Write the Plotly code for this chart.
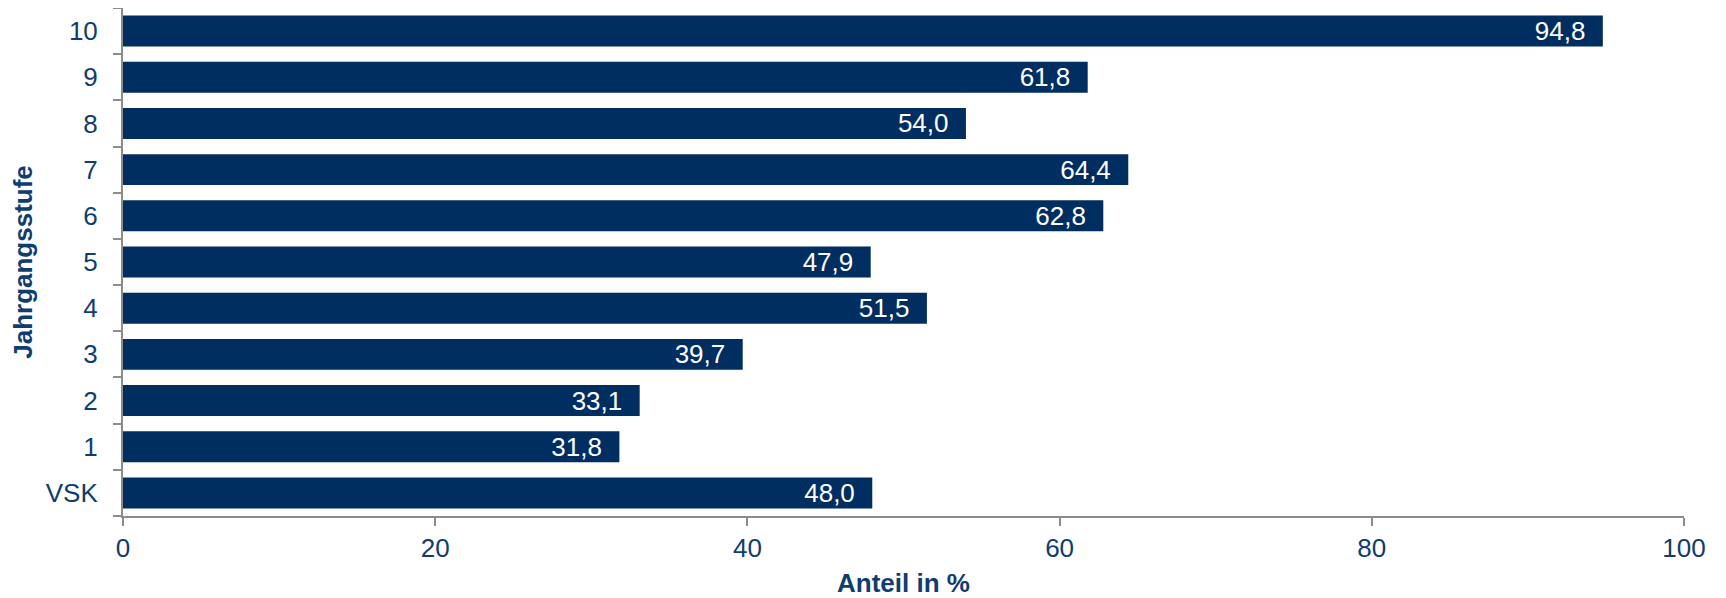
import plotly.graph_objects as go

stufen = ["VSK", "1", "2", "3", "4", "5", "6", "7", "8", "9", "10"]
anteil = [48.0, 31.8, 33.1, 39.7, 51.5, 47.9, 62.8, 64.4, 54.0, 61.8, 94.8]
# German decimal comma, plus two no-break spaces as padding to the bar end
labels = [f"{v:.1f}".replace(".", ",") + "\u00a0\u00a0" for v in anteil]

blau = "#002E60"
textblau = "#103D6F"
grau = "#8C8C8C"

fig = go.Figure(go.Bar(
    x=anteil, y=stufen, orientation="h",
    marker=dict(color=blau, line=dict(width=0)),
    text=labels, textposition="inside", insidetextanchor="end",
    textfont=dict(color="white", size=26, family="Liberation Sans"),
    cliponaxis=False,
))

# the page body adds 8px around the figure, so size and margins are reduced by that
fig.update_layout(
    width=1718, height=590,
    margin=dict(l=115, r=42, t=0, b=82),
    plot_bgcolor="white", paper_bgcolor="white",
    bargap=0.33,
    showlegend=False,
    font=dict(family="Liberation Sans", size=26, color=textblau),
    uniformtext=dict(minsize=26, mode="show"),
)
fig.update_xaxes(
    range=[0, 100], dtick=20, showgrid=False, zeroline=False,
    showline=True, linecolor=grau, linewidth=2,
    ticks="outside", ticklen=8, tickcolor=grau, tickwidth=2,
    tickfont=dict(size=26, color=textblau), automargin=False,
    title=dict(text="<b>Anteil in %</b>", font=dict(size=26, color=textblau), standoff=12),
)
fig.update_yaxes(
    showgrid=False, zeroline=False,
    showline=True, linecolor=grau, linewidth=2,
    ticks="outside", ticklen=8, tickcolor=grau, tickwidth=2,
    tickson="boundaries", ticklabelstandoff=18, automargin=False,
    tickfont=dict(size=26, color=textblau),
    title=dict(text="<b>Jahrgangsstufe</b>", font=dict(size=26, color=textblau), standoff=14),
)

fig.write_html("out.html")
